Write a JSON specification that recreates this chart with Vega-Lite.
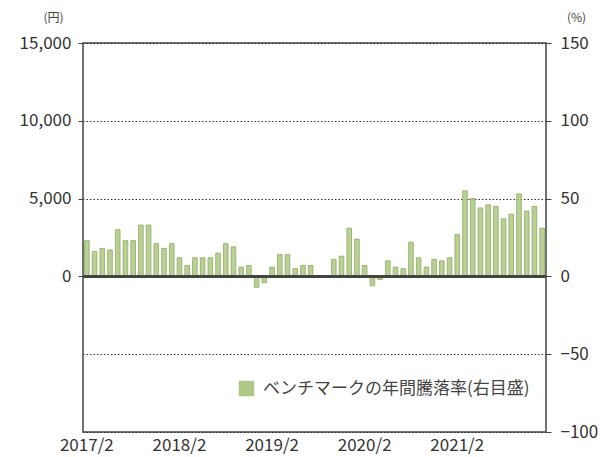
{
  "$schema": "https://vega.github.io/schema/vega-lite/v6.json",
  "width": 463,
  "height": 389,
  "autosize": {"type": "none"},
  "padding": {"left": 83, "top": 43, "right": 54, "bottom": 25},
  "background": "white",
  "config": {
    "font": "Noto Sans CJK JP",
    "view": {"stroke": "#444", "strokeWidth": 1.5},
    "axis": {"labelFont": "Noto Sans CJK JP", "labelFontSize": 17, "labelColor": "#333", "titleFont": "Noto Sans CJK JP", "titleFontSize": 12, "titleColor": "#444", "titleFontWeight": "normal"}
  },
  "data": {
    "values": [
      {"month": "2017/2", "rate": 23}, {"month": "2017/3", "rate": 16}, {"month": "2017/4", "rate": 18}, {"month": "2017/5", "rate": 17},
      {"month": "2017/6", "rate": 30}, {"month": "2017/7", "rate": 23}, {"month": "2017/8", "rate": 23}, {"month": "2017/9", "rate": 33},
      {"month": "2017/10", "rate": 33}, {"month": "2017/11", "rate": 21}, {"month": "2017/12", "rate": 18}, {"month": "2018/1", "rate": 21},
      {"month": "2018/2", "rate": 12}, {"month": "2018/3", "rate": 7}, {"month": "2018/4", "rate": 12}, {"month": "2018/5", "rate": 12},
      {"month": "2018/6", "rate": 12}, {"month": "2018/7", "rate": 15}, {"month": "2018/8", "rate": 21}, {"month": "2018/9", "rate": 19},
      {"month": "2018/10", "rate": 6}, {"month": "2018/11", "rate": 7}, {"month": "2018/12", "rate": -7}, {"month": "2019/1", "rate": -4},
      {"month": "2019/2", "rate": 6}, {"month": "2019/3", "rate": 14}, {"month": "2019/4", "rate": 14}, {"month": "2019/5", "rate": 5},
      {"month": "2019/6", "rate": 7}, {"month": "2019/7", "rate": 7}, {"month": "2019/8", "rate": -0.5}, {"month": "2019/9", "rate": -0.5},
      {"month": "2019/10", "rate": 11}, {"month": "2019/11", "rate": 13}, {"month": "2019/12", "rate": 31}, {"month": "2020/1", "rate": 24},
      {"month": "2020/2", "rate": 7}, {"month": "2020/3", "rate": -6}, {"month": "2020/4", "rate": -2}, {"month": "2020/5", "rate": 10},
      {"month": "2020/6", "rate": 6}, {"month": "2020/7", "rate": 5}, {"month": "2020/8", "rate": 22}, {"month": "2020/9", "rate": 12},
      {"month": "2020/10", "rate": 6}, {"month": "2020/11", "rate": 11}, {"month": "2020/12", "rate": 10}, {"month": "2021/1", "rate": 12},
      {"month": "2021/2", "rate": 27}, {"month": "2021/3", "rate": 55}, {"month": "2021/4", "rate": 50}, {"month": "2021/5", "rate": 44},
      {"month": "2021/6", "rate": 46}, {"month": "2021/7", "rate": 45}, {"month": "2021/8", "rate": 37}, {"month": "2021/9", "rate": 40},
      {"month": "2021/10", "rate": 53}, {"month": "2021/11", "rate": 42}, {"month": "2021/12", "rate": 45}, {"month": "2022/1", "rate": 31}
    ]
  },
  "layer": [
    {
      "mark": {"type": "bar", "stroke": "#8cab5c", "strokeWidth": 0.8, "fillOpacity": 0.85},
      "encoding": {
        "x": {
          "field": "month", "type": "ordinal", "sort": null,
          "scale": {"paddingInner": 0.4, "paddingOuter": 0.2},
          "axis": {"values": ["2017/2", "2018/2", "2019/2", "2020/2", "2021/2"], "labelAngle": 0, "ticks": false, "domain": false, "title": null, "labelPadding": 5}
        },
        "y": {
          "field": "rate", "type": "quantitative",
          "scale": {"domain": [-100, 150], "nice": false, "zero": false},
          "axis": {"orient": "left", "values": [0, 50, 100, 150], "labelExpr": "format(datum.value * 100, ',')", "grid": false, "domain": false, "tickSize": 5, "tickColor": "#444", "labelPadding": 7,
                   "title": "(円)", "titleAngle": 0, "titleX": -30, "titleY": -26, "titleAlign": "center", "titleBaseline": "middle"}
        },
        "color": {
          "datum": "ベンチマークの年間騰落率(右目盛)",
          "scale": {"range": ["#afc885"]},
          "legend": {"title": null, "orient": "none", "legendX": 155, "legendY": 337, "symbolType": "square", "symbolSize": 240, "symbolFillColor": "#8fac5e", "symbolStrokeWidth": 0, "labelFontSize": 17, "labelColor": "#444", "labelLimit": 400, "labelFont": "Noto Sans CJK JP", "labelOffset": 8}
        }
      }
    },
    {
      "mark": {"type": "rule", "color": "#444", "strokeWidth": 1.5},
      "encoding": {
        "y": {
          "datum": 0, "type": "quantitative",
          "axis": {"orient": "right", "values": [-100, -50, 0, 50, 100, 150], "grid": true, "gridDash": [1.5, 2], "gridColor": "#333", "gridOpacity": 1, "gridWidth": 1.2, "domain": false, "tickSize": 5, "tickColor": "#444", "labelPadding": 9,
                   "title": "(%)", "titleAngle": 0, "titleX": 30, "titleY": -26, "titleAlign": "center", "titleBaseline": "middle"}
        }
      }
    }
  ],
  "resolve": {"axis": {"y": "independent"}}
}
